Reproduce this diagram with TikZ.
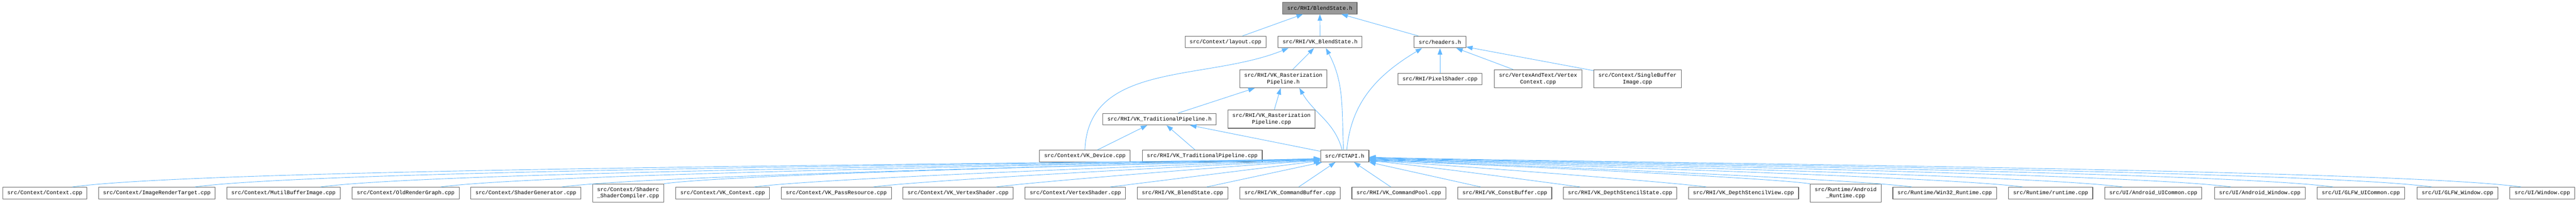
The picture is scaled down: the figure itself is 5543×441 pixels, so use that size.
\documentclass[tikz,border=0pt]{standalone}
\usepackage{fontspec}
\setmonofont{Liberation Mono}
\usetikzlibrary{arrows.meta,calc}
\definecolor{edgeblue}{HTML}{63B8FF}
\definecolor{boxgray}{HTML}{666666}
\definecolor{topgray}{HTML}{999999}
\tikzset{
  file/.style={draw=boxgray,fill=white,line width=1.2pt,inner xsep=10pt,inner ysep=2pt,
    minimum height=25pt,font=\ttfamily\fontsize{11.67pt}{14.3pt}\selectfont},
  twoline/.style={file,align=center,minimum height=39pt},
  root/.style={file,fill=topgray},
  incl/.style={edgeblue,line width=1pt,-{Triangle[length=14pt,width=10pt]}}
}
\begin{document}
\begin{tikzpicture}[x=1pt,y=1pt,line join=round]
  \path[use as bounding box] (0,0) rectangle (5543,-441);
  % upper part
  \node[root] (bs) at (2840,-17.5) {src/RHI/BlendState.h};
  \node[file] (layout) at (2637,-90.5) {src/Context/layout.cpp};
  \node[file] (vkbs) at (2840.5,-90.5) {src/RHI/VK\_BlendState.h};
  \node[file] (headers) at (3098.5,-90.5) {src/headers.h};
  \node[twoline] (rph) at (2761.5,-169.5) {src/RHI/VK\_Rasterization\\Pipeline.h};
  \node[file] (pixel) at (3098.5,-170) {src/RHI/PixelShader.cpp};
  \node[twoline] (vtxctx) at (3309.5,-169.5) {src/VertexAndText/Vertex\\Context.cpp};
  \node[twoline] (single) at (3523.5,-169.5) {src/Context/SingleBuffer\\Image.cpp};
  \node[file] (tph) at (2495,-256.5) {src/RHI/VK\_TraditionalPipeline.h};
  \node[twoline] (rpcpp) at (2736,-256.5) {src/RHI/VK\_Rasterization\\Pipeline.cpp};
  \node[file] (device) at (2334.5,-336) {src/Context/VK\_Device.cpp};
  \node[file] (tpcpp) at (2587,-336) {src/RHI/VK\_TraditionalPipeline.cpp};
  \node[file] (fct) at (2893.5,-336) {src/FCTAPI.h};
  % bottom row
  \node[file] (context) at (96.5,-415.5) {src/Context/Context.cpp};
  \node[file] (imgtarget) at (337.5,-415.5) {src/Context/ImageRenderTarget.cpp};
  \node[file] (multibuf) at (610,-415.5) {src/Context/MutilBufferImage.cpp};
  \node[file] (oldgraph) at (873,-415.5) {src/Context/OldRenderGraph.cpp};
  \node[file] (shadergen) at (1131.5,-415.5) {src/Context/ShaderGenerator.cpp};
  \node[twoline] (shaderc) at (1351.5,-415.5) {src/Context/Shaderc\\\_ShaderCompiler.cpp};
  \node[file] (vkcontext) at (1555,-415.5) {src/Context/VK\_Context.cpp};
  \node[file] (passres) at (1799.5,-415.5) {src/Context/VK\_PassResource.cpp};
  \node[file] (vkvertex) at (2061.5,-415.5) {src/Context/VK\_VertexShader.cpp};
  \node[file] (vertexsh) at (2314,-415.5) {src/Context/VertexShader.cpp};
  \node[file] (vkblendcpp) at (2544.5,-415.5) {src/RHI/VK\_BlendState.cpp};
  \node[file] (cmdbuf) at (2776,-415.5) {src/RHI/VK\_CommandBuffer.cpp};
  \node[file] (cmdpool) at (3010,-415.5) {src/RHI/VK\_CommandPool.cpp};
  \node[file] (constbuf) at (3238,-415.5) {src/RHI/VK\_ConstBuffer.cpp};
  \node[file] (dsstate) at (3486,-415.5) {src/RHI/VK\_DepthStencilState.cpp};
  \node[file] (dsview) at (3751.5,-415.5) {src/RHI/VK\_DepthStencilView.cpp};
  \node[twoline] (androidrt) at (3971.5,-415.5) {src/Runtime/Android\\\_Runtime.cpp};
  \node[file] (win32rt) at (4184.5,-415.5) {src/Runtime/Win32\_Runtime.cpp};
  \node[file] (runtime) at (4412.5,-415.5) {src/Runtime/runtime.cpp};
  \node[file] (anduicommon) at (4633.5,-415.5) {src/UI/Android\_UICommon.cpp};
  \node[file] (andwindow) at (4862.5,-415.5) {src/UI/Android\_Window.cpp};
  \node[file] (glfwuicommon) at (5080,-415.5) {src/UI/GLFW\_UICommon.cpp};
  \node[file] (glfwwindow) at (5288,-415.5) {src/UI/GLFW\_Window.cpp};
  \node[file] (window) at (5470.5,-415.5) {src/UI/Window.cpp};
  % includes, upper part
  \draw[incl] (layout) -- (bs);
  \draw[incl] (vkbs) -- (bs);
  \draw[incl] (headers) -- (bs);
  \draw[incl] (device.north) to[out=88,in=-158] ([xshift=23pt]vkbs.south west);
  \draw[incl] (rph) -- (vkbs);
  \draw[incl] ([xshift=-2.5pt]fct.north) to[out=93,in=-62] ([xshift=12.5pt]vkbs.south);
  \draw[incl] ([xshift=4.5pt]fct.north) to[out=85,in=-149] ([xshift=-38.5pt]headers.south);
  \draw[incl] (pixel) -- (headers);
  \draw[incl] (vtxctx) -- (headers);
  \draw[incl] (single) -- (headers);
  \draw[incl] (tph) -- (rph);
  \draw[incl] (rpcpp) -- (rph);
  \draw[incl] ([xshift=-5.5pt]fct.north) to[out=105,in=-60] ([xshift=34.5pt]rph.south);
  \draw[incl] (device) -- (tph);
  \draw[incl] (tpcpp) -- (tph);
  \draw[incl] (fct) -- (tph);
  % includes of src/FCTAPI.h
  \foreach \n/\f/\e/\c in {context/0.65/-5/314,imgtarget/0.65/-5/284,multibuf/0.65/-6/252,
      oldgraph/0.65/-6/222,shadergen/0.65/-7/191,shaderc/1/-7/165,vkcontext/0.67/-8/143,
      passres/0.67/-9/113,vkvertex/0.69/-10/82}
    \draw[incl] ($(\n.north)!\f!(\n.north east)$)
      .. controls +({\c},{0.14*\c}) and +({-\c},{-0.035*\c}) .. ([yshift=\e pt]fct.west);
  \draw[incl] ($(vertexsh.north)!0.69!(vertexsh.north east)$) -- ([yshift=3pt]fct.south west);
  \draw[incl] ($(vkblendcpp.north)!0.53!(vkblendcpp.north east)$) -- ([xshift=4pt]fct.south west);
  \draw[incl] ($(cmdbuf.north)!0.17!(cmdbuf.north east)$) -- ([xshift=-20pt]fct.south);
  \draw[incl] ($(cmdpool.north)!0.17!(cmdpool.north west)$) -- ([xshift=20pt]fct.south);
  \draw[incl] ($(constbuf.north)!0.51!(constbuf.north west)$) -- (fct.south east);
  \foreach \n/\f/\e/\c in {dsstate/0.70/-11/53,dsview/0.67/-10/85,androidrt/1/-9/111,
      win32rt/0.63/-8/137,runtime/0.66/-7/165,anduicommon/0.63/-6/190,andwindow/0.63/-5/217,
      glfwuicommon/0.63/-4/243,glfwwindow/0.63/-3/268,window/0.65/-2/290}
    \draw[incl] ($(\n.north)!\f!(\n.north west)$)
      .. controls +({-\c},{0.14*\c}) and +({\c},{-0.035*\c}) .. ([yshift=\e pt]fct.east);
\end{tikzpicture}
\end{document}
